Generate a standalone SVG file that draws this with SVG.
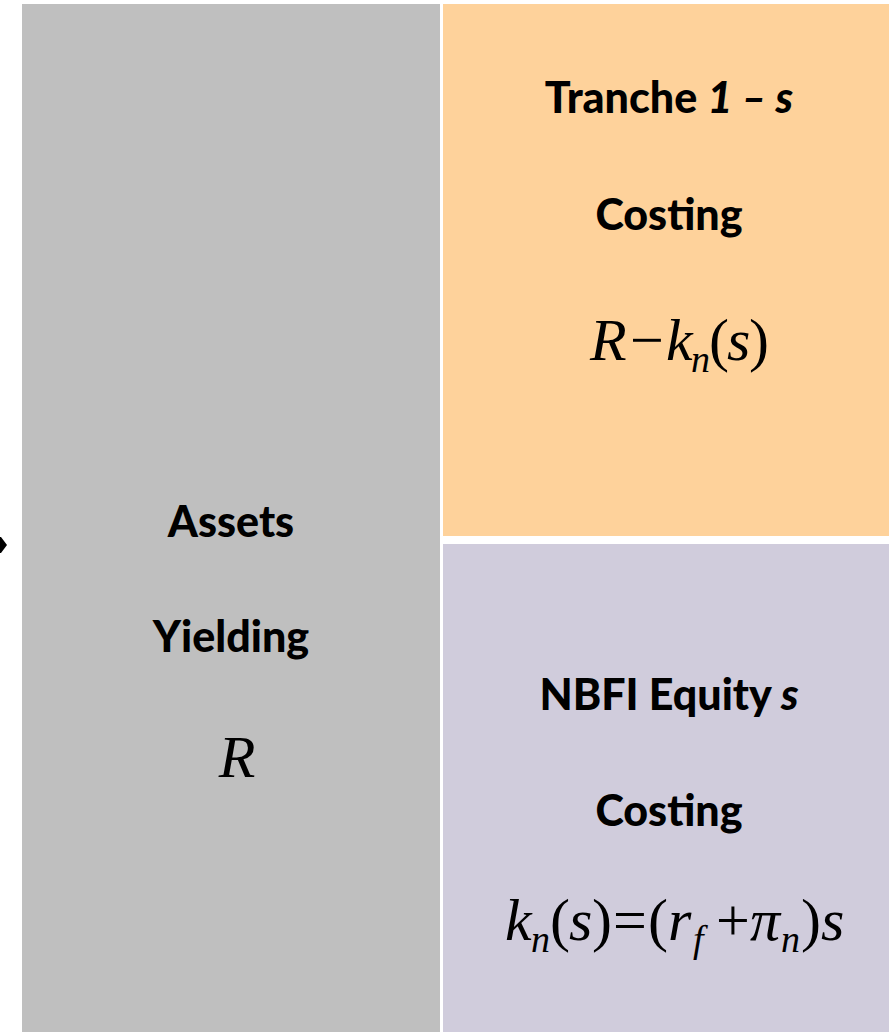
<svg xmlns="http://www.w3.org/2000/svg" width="889" height="1032" viewBox="0 0 889 1032">
<style>
.lbl{font-family:Lato,"Open Sans","Liberation Sans",sans-serif;font-weight:900;font-size:43px;fill:#000;text-anchor:middle}
.m{font-family:"Liberation Serif","Times New Roman",serif;font-size:60px;fill:#000}
.i{font-style:italic}
.sub{font-size:38px}
</style>
<rect width="889" height="1032" fill="#FFFFFF"/>
<g id="assets">
<rect x="22" y="4" width="418" height="1028" fill="#BFBFBF"/>
<text class="lbl" x="231" y="537">Assets</text>
<text class="lbl" x="231" y="652">Yielding</text>
<text class="m i" x="237" y="777" text-anchor="middle" font-size="57">R</text>
</g>
<g id="tranche">
<rect x="443" y="4" width="446" height="532" fill="#FED29B"/>
<text class="lbl" x="669" y="113">Tranche <tspan font-style="italic">1 – s</tspan></text>
<text class="lbl" x="669" y="230">Costing</text>
<text class="m"><tspan class="i" x="590" y="360">R</tspan><tspan x="630" y="360">−</tspan><tspan class="i" x="666" y="360">k</tspan><tspan class="i sub" x="691" y="372">n</tspan><tspan x="709" y="360">(</tspan><tspan class="i" x="727" y="360">s</tspan><tspan x="749" y="360">)</tspan></text>
</g>
<g id="equity">
<rect x="443" y="544" width="446" height="488" fill="#D0CCDC"/>
<text class="lbl" x="669" y="710">NBFI Equity <tspan font-style="italic">s</tspan></text>
<text class="lbl" x="669" y="826">Costing</text>
<text class="m"><tspan class="i" x="505" y="940">k</tspan><tspan class="i sub" x="531" y="952">n</tspan><tspan x="550" y="940">(</tspan><tspan class="i" x="569" y="940">s</tspan><tspan x="592" y="940">)</tspan><tspan x="613" y="940">=</tspan><tspan x="648" y="940">(</tspan><tspan class="i" x="668" y="940">r</tspan><tspan class="i sub" x="693" y="952">f</tspan><tspan x="716" y="940">+</tspan><tspan class="i" x="750" y="940">π</tspan><tspan class="i sub" x="781" y="952">n</tspan><tspan x="801" y="940">)</tspan><tspan class="i" x="821" y="940">s</tspan></text>
</g>
<g id="connectors">
<polygon points="0,537 1,537 7,545 1,553 0,553" fill="#000"/>
</g>
</svg>
